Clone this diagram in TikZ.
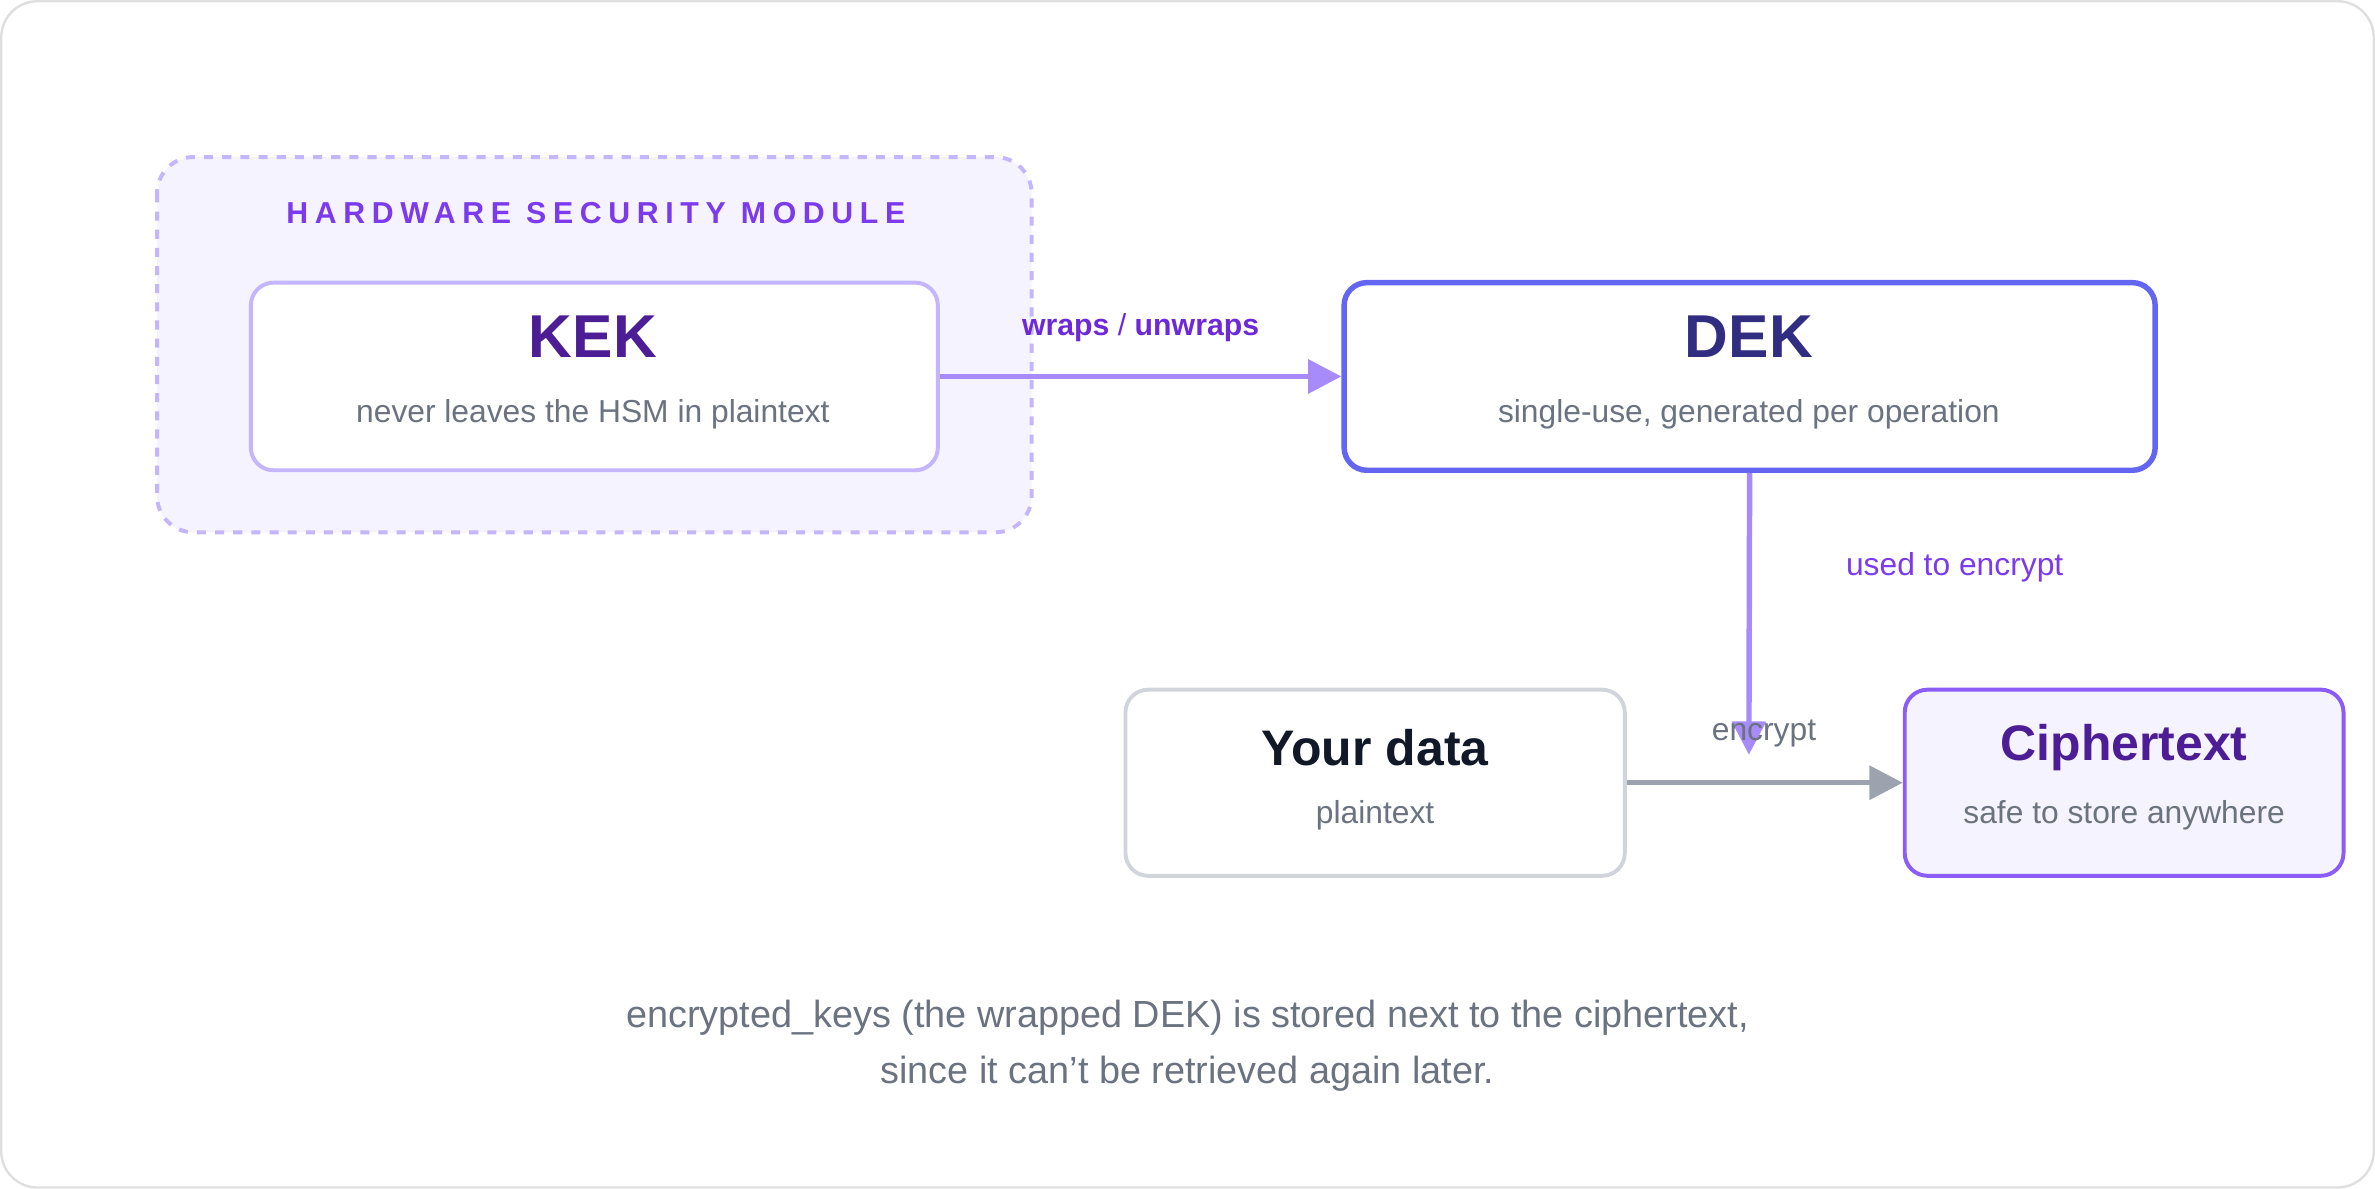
\documentclass[tikz,border=0pt]{standalone}
\usepackage{fontspec}
\setmainfont{Liberation Sans}
\usetikzlibrary{arrows.meta,positioning}
\definecolor{hsmfill}{HTML}{F5F3FF}
\definecolor{hsmline}{HTML}{C4B5FD}
\definecolor{titlepurple}{HTML}{7C3AED}
\definecolor{darkpurple}{HTML}{4C1D95}
\definecolor{dekline}{HTML}{6366F1}
\definecolor{deknavy}{HTML}{312E81}
\definecolor{arrowpurple}{HTML}{A78BFA}
\definecolor{labelpurple}{HTML}{6D28D9}
\definecolor{subgray}{HTML}{6B7280}
\definecolor{boxgray}{HTML}{D1D5DB}
\definecolor{arrowgray}{HTML}{9CA3AF}
\definecolor{cipherline}{HTML}{8B5CF6}
\definecolor{inkdark}{HTML}{111827}
\tikzset{
  box/.style={draw, rounded corners=7.5pt, line width=1.3pt, fill=white},
  head/.style={font=\bfseries\fontsize{20}{22}\selectfont},
  small/.style={font=\fontsize{10.5}{12}\selectfont, text=subgray},
  flow/.style={line width=1.8pt, -{Triangle[length=11pt,width=11pt]}}
}
\begin{document}
\begin{tikzpicture}[x=0.5pt,y=-0.5pt]
    % frame
    \draw[gray!25, line width=0.8pt, rounded corners=12pt] (0,0) rectangle (1568,784);

    % HSM group
    \draw[hsmline, fill=hsmfill, dashed, line width=1.3pt, rounded corners=12pt] (103,103) rectangle (681,351);
    \node[font=\bfseries\fontsize{10}{12}\selectfont\addfontfeature{LetterSpace=22}, text=titlepurple] (hsmtitle) at (393,140) {HARDWARE SECURITY MODULE};

    % key boxes
    \node[box, draw=hsmline, minimum width=227pt, minimum height=62pt] (kek) at (392,248) {};
    \node[head, text=darkpurple] (kektext) at (391,222) {KEK};
    \node[small] (keksub) at (391,273) {never leaves the HSM in plaintext};

    \node[box, draw=dekline, line width=1.8pt, minimum width=268pt, minimum height=62pt] (dek) at (1155.5,248) {};
    \node[head, text=deknavy] (dektext) at (1155,222) {DEK};
    \node[small] (deksub) at (1155,273) {single-use, generated per operation};

    % data boxes
    \node[box, draw=boxgray, minimum width=165pt, minimum height=61.5pt] (data) at (908,516.5) {};
    \node[font=\bfseries\fontsize{16.5}{18}\selectfont, text=inkdark] (datatext) at (908,493) {Your data};
    \node[small] (datasub) at (908,538) {plaintext};

    \node[box, draw=cipherline, fill=hsmfill, minimum width=145pt, minimum height=61.5pt] (cipher) at (1403,516.5) {};
    \node[font=\bfseries\fontsize{16.5}{18}\selectfont, text=darkpurple] (ciphertext) at (1403,493) {Ciphertext};
    \node[small] (ciphersub) at (1403,538) {safe to store anywhere};

    % connectors
    \draw[flow, arrowpurple] (kek.east) -- (dek.west);
    \node[font=\fontsize{10}{12}\selectfont, text=labelpurple] (wrap) at (753,216) {\textbf{wraps} / \textbf{unwraps}};

    \coordinate (dekend) at (1155,498);
    \draw[flow, arrowpurple] (dek.south) -- (dekend);
    \node[font=\fontsize{10.5}{12}\selectfont, text=titlepurple] (used) at (1291,374) {used to encrypt};

    \draw[flow, arrowgray] (data.east) -- (cipher.west);
    \node[small] (enc) at (1165,484) {encrypt};

    % footer
    \node[font=\fontsize{12.5}{14}\selectfont, text=subgray] (note1) at (784,672) {encrypted\_keys (the wrapped DEK) is stored next to the ciphertext,};
    \node[font=\fontsize{12.5}{14}\selectfont, text=subgray] (note2) at (784,709) {since it can't be retrieved again later.};
\end{tikzpicture}
\end{document}
